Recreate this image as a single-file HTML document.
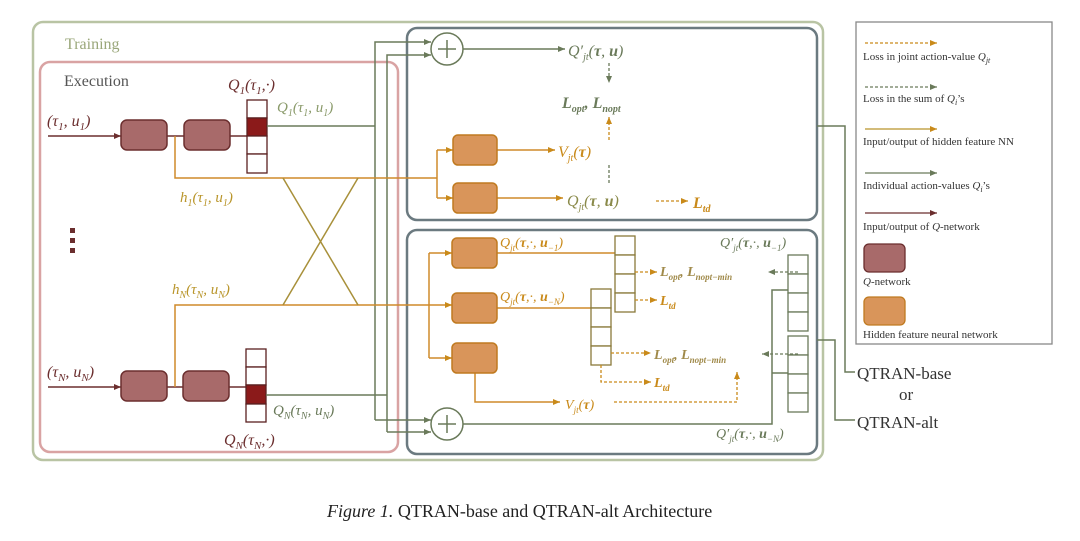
<!DOCTYPE html>
<html><head><meta charset="utf-8"><style>
body{margin:0;background:#fff;width:1080px;height:536px;overflow:hidden}
svg text{font-family:"Liberation Serif",serif}
.m{font-style:italic}
</style></head><body>
<svg width="1080" height="536" viewBox="0 0 1080 536" xmlns="http://www.w3.org/2000/svg">
<defs>
<marker id="ag" markerWidth="8" markerHeight="8" refX="7" refY="4" orient="auto" markerUnits="userSpaceOnUse"><path d="M0,1 L7,4 L0,7z" fill="#6a7a5a"/></marker>
<marker id="ao" markerWidth="8" markerHeight="8" refX="7" refY="4" orient="auto" markerUnits="userSpaceOnUse"><path d="M0,1 L7,4 L0,7z" fill="#c98a1a"/></marker>
<marker id="ad" markerWidth="8" markerHeight="8" refX="7" refY="4" orient="auto" markerUnits="userSpaceOnUse"><path d="M0,1 L7,4 L0,7z" fill="#6a5a4a"/></marker>
<marker id="am" markerWidth="8" markerHeight="8" refX="7" refY="4" orient="auto" markerUnits="userSpaceOnUse"><path d="M0,1 L7,4 L0,7z" fill="#6b2e2e"/></marker>
</defs>
<!-- Training & Execution -->
<rect x="33" y="22" width="790" height="438" rx="10" fill="none" stroke="#b9c4a4" stroke-width="2.5"/>
<text x="65" y="49" font-size="16" fill="#9aa77a">Training</text>
<rect x="40" y="62" width="358" height="390" rx="10" fill="none" stroke="#d9a3a3" stroke-width="2.5"/>
<text x="64" y="86" font-size="16" fill="#555">Execution</text>
<!-- right boxes -->
<rect x="407" y="28" width="410" height="192" rx="10" fill="none" stroke="#6b7a80" stroke-width="2.5"/>
<rect x="407" y="230" width="410" height="224" rx="10" fill="none" stroke="#6b7a80" stroke-width="2.5"/>
<!-- inputs -->
<text x="47" y="126" font-size="16" class="m" fill="#6b2e2e">(τ<tspan font-size="11" dy="4">1</tspan><tspan dy="-4">, u</tspan><tspan font-size="11" dy="4">1</tspan><tspan dy="-4">)</tspan></text>
<line x1="48" y1="136" x2="121" y2="136" stroke="#6b2e2e" stroke-width="1.5" marker-end="url(#am)"/>
<text x="47" y="377" font-size="16" class="m" fill="#6b2e2e">(τ<tspan font-size="11" dy="4">N</tspan><tspan dy="-4">, u</tspan><tspan font-size="11" dy="4">N</tspan><tspan dy="-4">)</tspan></text>
<line x1="48" y1="387" x2="121" y2="387" stroke="#6b2e2e" stroke-width="1.5" marker-end="url(#am)"/>
<line x1="167" y1="136" x2="184" y2="136" stroke="#6b2e2e" stroke-width="1.5"/>
<line x1="230" y1="136" x2="247" y2="136" stroke="#6b2e2e" stroke-width="1.5"/>
<line x1="167" y1="387" x2="183" y2="387" stroke="#6b2e2e" stroke-width="1.5"/>
<line x1="229" y1="387" x2="246" y2="387" stroke="#6b2e2e" stroke-width="1.5"/>
<g fill="#a86a6a" stroke="#6b2e2e" stroke-width="1.5">
<rect x="121" y="120" width="46" height="30" rx="6"/><rect x="184" y="120" width="46" height="30" rx="6"/>
<rect x="121" y="371" width="46" height="30" rx="6"/><rect x="183" y="371" width="46" height="30" rx="6"/>
</g>
<!-- Q vectors -->
<g stroke="#5a2020" stroke-width="1.3" fill="#fff">
<rect x="247" y="100" width="20" height="18"/><rect x="247" y="118" width="20" height="18" fill="#8b1a1a"/><rect x="247" y="136" width="20" height="18"/><rect x="247" y="154" width="20" height="19"/>
<rect x="246" y="349" width="20" height="18"/><rect x="246" y="367" width="20" height="18"/><rect x="246" y="385" width="20" height="19" fill="#8b1a1a"/><rect x="246" y="404" width="20" height="18"/>
</g>
<text x="228" y="90" font-size="16" class="m" fill="#6b2e2e">Q<tspan font-size="11" dy="4">1</tspan><tspan dy="-4">(τ</tspan><tspan font-size="11" dy="4">1</tspan><tspan dy="-4">,·)</tspan></text>
<text x="224" y="445" font-size="16" class="m" fill="#6b2e2e">Q<tspan font-size="11" dy="4">N</tspan><tspan dy="-4">(τ</tspan><tspan font-size="11" dy="4">N</tspan><tspan dy="-4">,·)</tspan></text>
<g fill="#6b2e2e"><rect x="70" y="228" width="5" height="5"/><rect x="70" y="238" width="5" height="5"/><rect x="70" y="248" width="5" height="5"/></g>
<!-- green lines -->
<g stroke="#6a7a5a" stroke-width="1.5" fill="none">
<polyline points="267,126 375,126"/>
<polyline points="266,395 387,395"/>
<polyline points="375,420 375,42 431,42" marker-end="url(#ag)"/>
<polyline points="387,432 387,55 431,55" marker-end="url(#ag)"/>
<polyline points="375,420 431,420" marker-end="url(#ag)"/>
<polyline points="387,432 431,432" marker-end="url(#ag)"/>
<circle cx="447" cy="49" r="16"/><circle cx="447" cy="424" r="16"/>
<path d="M447,40 V58 M438,49 H456 M447,415 V433 M438,424 H456"/>
<line x1="463" y1="49" x2="565" y2="49" marker-end="url(#ag)"/>
<polyline points="463,424 772,424 772,290 788,290"/>
<polyline points="772,373 788,373"/>
<polyline points="817,126 845,126 845,372 855,372"/>
<polyline points="817,340 835,340 835,420 855,420"/>
</g>
<text x="277" y="112" font-size="15" class="m" fill="#8a9a6a">Q<tspan font-size="10" dy="4">1</tspan><tspan dy="-4">(τ</tspan><tspan font-size="10" dy="4">1</tspan><tspan dy="-4">, u</tspan><tspan font-size="10" dy="4">1</tspan><tspan dy="-4">)</tspan></text>
<text x="273" y="415" font-size="15" class="m" fill="#6a7a5a">Q<tspan font-size="10" dy="4">N</tspan><tspan dy="-4">(τ</tspan><tspan font-size="10" dy="4">N</tspan><tspan dy="-4">, u</tspan><tspan font-size="10" dy="4">N</tspan><tspan dy="-4">)</tspan></text>
<!-- orange hidden lines -->
<g stroke="#cf8a2a" stroke-width="1.5" fill="none">
<polyline points="175,136 175,178 437,178"/>
<polyline points="437,150 437,198"/>
<line x1="437" y1="150" x2="453" y2="150" marker-end="url(#ao)"/>
<line x1="437" y1="198" x2="453" y2="198" marker-end="url(#ao)"/>
<polyline points="175,387 175,305 452,305" marker-end="url(#ao)"/>
<line x1="283" y1="178" x2="358" y2="305" stroke="#a8903a"/>
<line x1="358" y1="178" x2="283" y2="305" stroke="#a8903a"/>
<polyline points="429,305 429,253"/><polyline points="429,305 429,358"/>
<line x1="429" y1="253" x2="452" y2="253" marker-end="url(#ao)"/>
<line x1="429" y1="358" x2="452" y2="358" marker-end="url(#ao)"/>
<line x1="497" y1="150" x2="555" y2="150" marker-end="url(#ao)"/>
<line x1="497" y1="198" x2="563" y2="198" marker-end="url(#ao)"/>
<line x1="497" y1="253" x2="635" y2="253"/>
<line x1="497" y1="308" x2="611" y2="308"/>
<polyline points="475,373 475,402 560,402" marker-end="url(#ao)"/>
</g>
<text x="180" y="202" font-size="15" class="m" fill="#b9952a">h<tspan font-size="10" dy="4">1</tspan><tspan dy="-4">(τ</tspan><tspan font-size="10" dy="4">1</tspan><tspan dy="-4">, u</tspan><tspan font-size="10" dy="4">1</tspan><tspan dy="-4">)</tspan></text>
<text x="172" y="294" font-size="15" class="m" fill="#b9952a">h<tspan font-size="10" dy="4">N</tspan><tspan dy="-4">(τ</tspan><tspan font-size="10" dy="4">N</tspan><tspan dy="-4">, u</tspan><tspan font-size="10" dy="4">N</tspan><tspan dy="-4">)</tspan></text>
<g fill="#d9955a" stroke="#c07a20" stroke-width="1.5">
<rect x="453" y="135" width="44" height="30" rx="5"/><rect x="453" y="183" width="44" height="30" rx="5"/>
<rect x="452" y="238" width="45" height="30" rx="5"/><rect x="452" y="293" width="45" height="30" rx="5"/><rect x="452" y="343" width="45" height="30" rx="5"/>
</g>
<!-- top box labels -->
<text x="568" y="56" font-size="16" class="m" fill="#6a7a5a">Q′<tspan font-size="10" dy="4">jt</tspan><tspan dy="-4">(</tspan><tspan font-weight="bold">τ</tspan>, <tspan font-weight="bold">u</tspan>)</text>
<text x="562" y="108" font-size="16" class="m" font-weight="bold" fill="#6a7a5a">L<tspan font-size="10" dy="4">opt</tspan><tspan dy="-4">, L</tspan><tspan font-size="10" dy="4">nopt</tspan></text>
<text x="558" y="157" font-size="16" class="m" fill="#c98a1a">V<tspan font-size="10" dy="4">jt</tspan><tspan dy="-4">(</tspan><tspan font-weight="bold">τ</tspan>)</text>
<text x="567" y="206" font-size="16" class="m" fill="#8a8a4a">Q<tspan font-size="10" dy="4">jt</tspan><tspan dy="-4">(</tspan><tspan font-weight="bold">τ</tspan>, <tspan font-weight="bold">u</tspan>)</text>
<text x="693" y="208" font-size="16" class="m" font-weight="bold" fill="#c98a1a">L<tspan font-size="10" dy="4">td</tspan></text>
<g stroke-width="1.3" stroke-dasharray="3,2" fill="none">
<line x1="609" y1="63" x2="609" y2="83" stroke="#6a7a5a" marker-end="url(#ag)"/>
<line x1="609" y1="140" x2="609" y2="117" stroke="#c98a1a" marker-end="url(#ao)"/>
<line x1="609" y1="183" x2="609" y2="165" stroke="#6a7a5a"/>
<line x1="656" y1="201" x2="688" y2="201" stroke="#c98a1a" marker-end="url(#ao)"/>
</g>
<!-- bottom box -->
<g stroke="#8a7a3a" stroke-width="1.3" fill="#fff">
<rect x="615" y="236" width="20" height="19"/><rect x="615" y="255" width="20" height="19"/><rect x="615" y="274" width="20" height="19"/><rect x="615" y="293" width="20" height="19"/>
<rect x="591" y="289" width="20" height="19"/><rect x="591" y="308" width="20" height="19"/><rect x="591" y="327" width="20" height="19"/><rect x="591" y="346" width="20" height="19"/>
</g>
<g stroke="#6a7a5a" stroke-width="1.3" fill="#fff">
<rect x="788" y="255" width="20" height="19"/><rect x="788" y="274" width="20" height="19"/><rect x="788" y="293" width="20" height="19"/><rect x="788" y="312" width="20" height="19"/>
<rect x="788" y="336" width="20" height="19"/><rect x="788" y="355" width="20" height="19"/><rect x="788" y="374" width="20" height="19"/><rect x="788" y="393" width="20" height="19"/>
</g>
<text x="500" y="247" font-size="14" class="m" fill="#c98a1a">Q<tspan font-size="9" dy="4">jt</tspan><tspan dy="-4">(</tspan><tspan font-weight="bold">τ</tspan>,·, <tspan font-weight="bold">u</tspan><tspan font-size="9" dy="4">−1</tspan><tspan dy="-4">)</tspan></text>
<text x="500" y="301" font-size="14" class="m" fill="#c98a1a">Q<tspan font-size="9" dy="4">jt</tspan><tspan dy="-4">(</tspan><tspan font-weight="bold">τ</tspan>,·, <tspan font-weight="bold">u</tspan><tspan font-size="9" dy="4">−N</tspan><tspan dy="-4">)</tspan></text>
<text x="720" y="247" font-size="14" class="m" fill="#6a7a5a">Q′<tspan font-size="9" dy="4">jt</tspan><tspan dy="-4">(</tspan><tspan font-weight="bold">τ</tspan>,·, <tspan font-weight="bold">u</tspan><tspan font-size="9" dy="4">−1</tspan><tspan dy="-4">)</tspan></text>
<text x="716" y="438" font-size="14" class="m" fill="#6a7a5a">Q′<tspan font-size="9" dy="4">jt</tspan><tspan dy="-4">(</tspan><tspan font-weight="bold">τ</tspan>,·, <tspan font-weight="bold">u</tspan><tspan font-size="9" dy="4">−N</tspan><tspan dy="-4">)</tspan></text>
<text x="660" y="276" font-size="14" class="m" font-weight="bold" fill="#a08a4a">L<tspan font-size="9" dy="4">opt</tspan><tspan dy="-4">, L</tspan><tspan font-size="9" dy="4">nopt−min</tspan></text>
<text x="660" y="305" font-size="14" class="m" font-weight="bold" fill="#c98a1a">L<tspan font-size="9" dy="4">td</tspan></text>
<text x="654" y="359" font-size="14" class="m" font-weight="bold" fill="#a08a4a">L<tspan font-size="9" dy="4">opt</tspan><tspan dy="-4">, L</tspan><tspan font-size="9" dy="4">nopt−min</tspan></text>
<text x="654" y="387" font-size="14" class="m" font-weight="bold" fill="#c98a1a">L<tspan font-size="9" dy="4">td</tspan></text>
<text x="565" y="409" font-size="14" class="m" fill="#c98a1a">V<tspan font-size="9" dy="4">jt</tspan><tspan dy="-4">(</tspan><tspan font-weight="bold">τ</tspan>)</text>
<g stroke-width="1.3" stroke-dasharray="3,2" fill="none">
<line x1="635" y1="272" x2="657" y2="272" stroke="#c98a1a" marker-end="url(#ao)"/>
<line x1="635" y1="300" x2="657" y2="300" stroke="#c98a1a" marker-end="url(#ao)"/>
<line x1="611" y1="353" x2="651" y2="353" stroke="#c98a1a" marker-end="url(#ao)"/>
<polyline points="601,365 601,382 651,382" stroke="#c98a1a" marker-end="url(#ao)"/>
<line x1="798" y1="272" x2="768" y2="272" stroke="#6a7a5a" marker-end="url(#ag)"/>
<line x1="798" y1="354" x2="762" y2="354" stroke="#6a7a5a" marker-end="url(#ag)"/>
<polyline points="614,402 737,402 737,372" stroke="#c98a1a" marker-end="url(#ao)"/>
</g>
<!-- QTRAN labels -->
<text x="857" y="379" font-size="17" fill="#333">QTRAN-base</text>
<text x="899" y="400" font-size="17" fill="#333">or</text>
<text x="857" y="428" font-size="17" fill="#333">QTRAN-alt</text>
<!-- legend -->
<rect x="856" y="22" width="196" height="322" fill="none" stroke="#888" stroke-width="1.3"/>
<g font-size="11" fill="#333">
<line x1="865" y1="43" x2="937" y2="43" stroke="#c98a1a" stroke-width="1.2" stroke-dasharray="3,2" marker-end="url(#ao)"/>
<text x="863" y="60">Loss in joint action-value <tspan class="m">Q<tspan font-size="8" dy="3">jt</tspan></tspan></text>
<line x1="865" y1="87" x2="937" y2="87" stroke="#6a7a5a" stroke-width="1.2" stroke-dasharray="3,2" marker-end="url(#ag)"/>
<text x="863" y="102">Loss in the sum of <tspan class="m">Q<tspan font-size="8" dy="3">i</tspan></tspan><tspan dy="-3">’s</tspan></text>
<line x1="865" y1="129" x2="937" y2="129" stroke="#b9952a" stroke-width="1.3" marker-end="url(#ao)"/>
<text x="863" y="145">Input/output of hidden feature NN</text>
<line x1="865" y1="173" x2="937" y2="173" stroke="#6a7a5a" stroke-width="1.3" marker-end="url(#ag)"/>
<text x="863" y="189">Individual action-values <tspan class="m">Q<tspan font-size="8" dy="3">i</tspan></tspan><tspan dy="-3">’s</tspan></text>
<line x1="865" y1="213" x2="937" y2="213" stroke="#6b2e2e" stroke-width="1.3" marker-end="url(#am)"/>
<text x="863" y="230">Input/output of <tspan class="m">Q</tspan>-network</text>
<rect x="864" y="244" width="41" height="28" rx="5" fill="#a86a6a" stroke="#6b2e2e" stroke-width="1.3"/>
<text x="863" y="285"><tspan class="m">Q</tspan>-network</text>
<rect x="864" y="297" width="41" height="28" rx="5" fill="#d9955a" stroke="#c07a20" stroke-width="1.3"/>
<text x="863" y="338">Hidden feature neural network</text>
</g>
<!-- caption -->
<text x="327" y="517" font-size="18" fill="#222"><tspan class="m">Figure 1.</tspan> QTRAN-base and QTRAN-alt Architecture</text>
</svg>
</body></html>
